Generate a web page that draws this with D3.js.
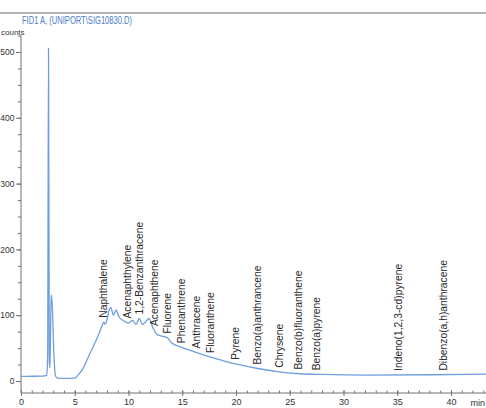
<!DOCTYPE html>
<html>
<head>
<meta charset="utf-8">
<script src="https://cdn.jsdelivr.net/npm/d3@7"></script>
<style>
  html, body { margin: 0; padding: 0; background: #fff; }
  svg { display: block; }
</style>
</head>
<body>
<svg id="chart" width="486" height="408"></svg>
<script>
// FID1 A chromatogram of a PAH standard mix

// Retention time (min) and detector response (counts)
const times = [0, 1, 2, 2.4, 2.48, 2.56, 2.63, 2.7, 2.8, 2.9, 3.05, 3.2, 3.4, 4, 5, 5.3, 5.8, 6.3, 6.8,
  7.2, 7.5, 7.7, 7.8, 7.95, 8.2, 8.35, 8.6, 8.85, 9.1, 9.5, 10.0, 10.4, 10.7, 11.0, 11.3, 11.6, 11.9,
  12.3, 12.7, 13.2, 13.6, 14.0, 14.8, 16, 17.5, 19, 20.5, 22, 24, 26, 28, 32, 38, 43.5];
const signal = [7, 7.2, 7.5, 8.5, 40, 506, 30, 20, 131, 118, 45, 8, 4.5, 4, 4.5, 9, 20, 38, 55,
  70, 82, 90, 86, 90, 108, 112, 100, 108, 98, 92, 88, 92, 86, 95, 86, 90, 95,
  80, 70, 68, 66, 58, 52, 45, 37, 30, 24, 19, 14, 11, 10, 9, 9.5, 10.5];

// Peak identifications
const compounds = ["Naphthalene", "Acenaphthylene", "1,2-Benzanthracene", "Acenaphthene", "Fluorene",
  "Phenanthrene", "Anthracene", "Fluoranthene", "Pyrene", "Benzo(a)anthrancene", "Chrysene",
  "Benzo(b)fluoranthene", "Benzo(a)pyrene", "Indeno(1,2,3-cd)pyrene", "Dibenzo(a,h)anthracene"];
const retention = [7.7, 9.9, 11.0, 12.4, 13.6, 14.9, 16.3, 17.6, 19.9, 22.0, 24.0, 25.8, 27.5, 35.1, 39.3];

// Axis ticks
const yTicks = [0, 100, 200, 300, 400, 500];
const yMinor = d3.range(0, 526, 25);
const xTicks = [0, 5, 10, 15, 20, 25, 30, 35, 40];
const xMinor = d3.range(0, 44, 1);

const title = "FID1 A, (UNIPORT\\SIG10830.D)";

const svg = d3.select("#chart");
const x = d3.scaleLinear().domain([0, 40]).range([21, 451]);
const y = d3.scaleLinear().domain([0, 500]).range([381, 52]);
const axisY = 393;

const axisColor = "#707070";
const sans = "'Liberation Sans', Arial, sans-serif";

// header rule and title
svg.append("line")
  .attr("x1", 0).attr("x2", 486).attr("y1", 13).attr("y2", 13)
  .attr("stroke", "#9a9a9a").attr("stroke-width", 1.6);
svg.append("text")
  .attr("x", 22).attr("y", 24)
  .attr("font-family", sans)
  .attr("font-size", 10)
  .attr("textLength", 110).attr("lengthAdjust", "spacingAndGlyphs")
  .attr("fill", "#4a7cc8")
  .text(title);

// y axis
const gy = svg.append("g").attr("transform", "translate(21,0)");
gy.append("line")
  .attr("x1", 0).attr("x2", 0).attr("y1", y(525)).attr("y2", axisY)
  .attr("stroke", axisColor).attr("stroke-width", 1);
const gyMinor = gy.append("g").call(d3.axisLeft(y).tickValues(yMinor).tickSize(3).tickFormat(""));
const gyMajor = gy.append("g").call(d3.axisLeft(y).tickValues(yTicks).tickSize(5).tickPadding(1.5));
[gyMinor, gyMajor].forEach(g => {
  g.select(".domain").remove();
  g.selectAll("line").attr("stroke", axisColor);
});
gyMajor.selectAll("text")
  .attr("font-family", sans).attr("font-size", 8.5).attr("fill", "#333");
svg.append("text")
  .attr("x", 1).attr("y", 34.5)
  .attr("font-family", sans).attr("font-size", 8).attr("fill", "#333")
  .text("counts");

// x axis
const gx = svg.append("g").attr("transform", `translate(0,${axisY})`);
gx.append("line")
  .attr("x1", x(0)).attr("x2", 486).attr("y1", 0).attr("y2", 0)
  .attr("stroke", axisColor).attr("stroke-width", 1);
const gxMinor = gx.append("g").call(d3.axisBottom(x).tickValues(xMinor).tickSize(-2.5).tickFormat(""));
const gxMajor = gx.append("g").call(d3.axisBottom(x).tickValues(xTicks).tickSize(3).tickPadding(3));
[gxMinor, gxMajor].forEach(g => {
  g.select(".domain").remove();
  g.selectAll("line").attr("stroke", axisColor);
});
gxMajor.selectAll("line").attr("y1", -2.5);
gxMajor.selectAll("text")
  .attr("font-family", sans).attr("font-size", 9).attr("fill", "#333");
gx.append("text")
  .attr("x", 485).attr("y", 13).attr("text-anchor", "end")
  .attr("font-family", sans).attr("font-size", 9).attr("fill", "#333")
  .text("min");

// chromatogram trace
const pts = times.map((t, i) => [t, signal[i]]);
const line = d3.line()
  .x(d => x(d[0])).y(d => y(d[1]))
  .curve(d3.curveMonotoneX);
svg.append("path")
  .datum(pts)
  .attr("d", line)
  .attr("fill", "none")
  .attr("stroke", "#6d9fdf")
  .attr("stroke-width", 1.3)
  .attr("stroke-linejoin", "round");

// response at a given time, linear between samples
const bisect = d3.bisector(d => d).left;
function responseAt(t) {
  const i = Math.max(1, Math.min(times.length - 1, bisect(times, t)));
  const t0 = times[i - 1], t1 = times[i];
  const k = (t - t0) / (t1 - t0);
  return signal[i - 1] + k * (signal[i] - signal[i - 1]);
}

// peak labels, written upward from just above the trace
svg.append("g").selectAll("text")
  .data(compounds)
  .join("text")
  .attr("transform", (d, i) => `translate(${x(retention[i])},${y(responseAt(retention[i])) - 4}) rotate(-90)`)
  .attr("dy", "0.35em")
  .attr("font-family", sans)
  .attr("font-size", 10.3)
  .attr("fill", "#2a2a2a")
  .text(d => d);
</script>
</body>
</html>
